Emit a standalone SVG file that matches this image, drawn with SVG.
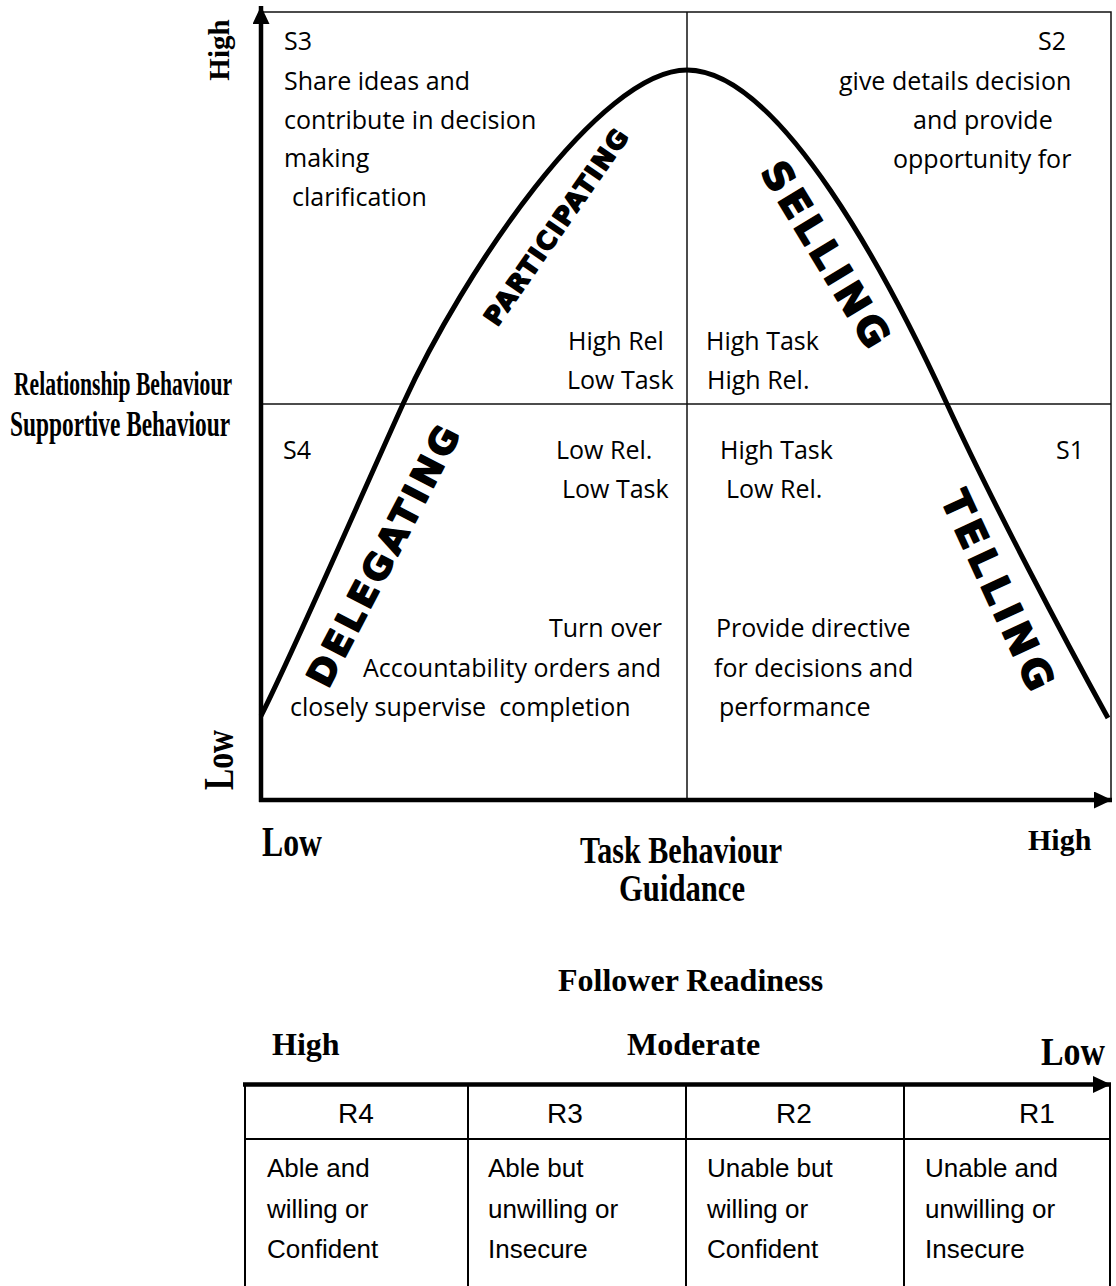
<svg xmlns="http://www.w3.org/2000/svg" width="1116" height="1286" viewBox="0 0 1116 1286">
  <defs>
    <marker id="arrow" markerUnits="userSpaceOnUse" markerWidth="18" markerHeight="17" refX="18" refY="8.5" orient="auto">
      <path d="M0,0 L18,8.5 L0,17 z" fill="#000"/>
    </marker>
    <style>
      .thin { stroke: #111; stroke-width: 1.5; fill: none; }
      .axis { stroke: #000; stroke-width: 4.5; fill: none; }
      .curve { stroke: #000; stroke-width: 5; fill: none; }
      .grid { stroke: #000; stroke-width: 2; fill: none; }
      .q { font-family: "Open Sans", "Liberation Sans", sans-serif; font-size: 25px; fill: #000; }
      .ser { font-family: "Liberation Serif", "Times New Roman", serif; font-weight: bold; fill: #000; }
      .tb { font-family: "Liberation Sans", Arial, sans-serif; font-size: 26px; fill: #000; }
      .rh { font-family: "Liberation Sans", Arial, sans-serif; font-size: 28px; fill: #000; text-anchor: middle; }
      .style { font-family: "DejaVu Sans", "Liberation Sans", sans-serif; font-weight: bold; fill: #000; stroke: #000; stroke-width: 1.6; stroke-linejoin: round; text-anchor: middle; }
    </style>
  </defs>

  <!-- quadrant frame and dividers -->
  <g id="frame">
    <path class="thin" d="M261,12 H1111 V800"/>
    <line class="thin" x1="687" y1="12" x2="687" y2="800"/>
    <line class="thin" x1="261" y1="404" x2="1111" y2="404"/>
  </g>

  <!-- axes and the leadership-style curve -->
  <g id="connectors">
    <line class="axis" x1="261" y1="802" x2="261" y2="6" marker-end="url(#arrow)"/>
    <line class="axis" x1="259" y1="800" x2="1112" y2="800" marker-end="url(#arrow)"/>
    <path class="curve" d="M261,716 C296,646 363,492 403,404 C463,272 600,70 687,70 C780,70 890,280 947,404 C992,502 1065,640 1108,718"/>
    <line class="axis" x1="243" y1="1084.5" x2="1111" y2="1084.5" marker-end="url(#arrow)"/>
  </g>

  <!-- S3 quadrant -->
  <g id="s3">
    <text class="q" x="284" y="50">S3</text>
    <text class="q" x="284" y="90">Share ideas and</text>
    <text class="q" x="284" y="129">contribute in decision</text>
    <text class="q" x="284" y="167">making</text>
    <text class="q" x="292" y="206">clarification</text>
  </g>

  <!-- S2 quadrant -->
  <g id="s2">
    <text class="q" x="1038" y="50">S2</text>
    <text class="q" x="839" y="90">give details decision</text>
    <text class="q" x="913" y="129">and provide</text>
    <text class="q" x="893" y="168">opportunity for</text>
  </g>

  <!-- centre labels -->
  <g id="high-rel-low-task">
    <text class="q" x="568" y="350">High Rel</text>
    <text class="q" x="567" y="389">Low Task</text>
  </g>
  <g id="high-task-high-rel">
    <text class="q" x="706" y="350">High Task</text>
    <text class="q" x="707" y="389">High Rel.</text>
  </g>
  <g id="low-rel-low-task">
    <text class="q" x="556" y="459">Low Rel.</text>
    <text class="q" x="562" y="498">Low Task</text>
  </g>
  <g id="high-task-low-rel">
    <text class="q" x="720" y="459">High Task</text>
    <text class="q" x="726" y="498">Low Rel.</text>
  </g>

  <!-- S4 quadrant -->
  <g id="s4">
    <text class="q" x="283" y="459">S4</text>
    <text class="q" x="549" y="637">Turn over</text>
    <text class="q" x="363" y="677">Accountability orders and</text>
    <text class="q" x="290" y="716" xml:space="preserve">closely supervise  completion</text>
  </g>

  <!-- S1 quadrant -->
  <g id="s1">
    <text class="q" x="1056" y="459">S1</text>
    <text class="q" x="716" y="637">Provide directive</text>
    <text class="q" x="714" y="677">for decisions and</text>
    <text class="q" x="719" y="716">performance</text>
  </g>

  <!-- style names along the curve -->
  <g id="participating">
    <text class="style" font-size="25" textLength="232" transform="translate(556,227) rotate(-55.3)" dy="0.36em">PARTICIPATING</text>
  </g>
  <g id="selling">
    <text class="style" font-size="39" textLength="210" transform="translate(826,254) rotate(58.8)" dy="0.36em">SELLING</text>
  </g>
  <g id="telling">
    <text class="style" font-size="39" textLength="215" transform="translate(998,590) rotate(65.1)" dy="0.36em">TELLING</text>
  </g>
  <g id="delegating">
    <text class="style" font-size="36" textLength="288" transform="translate(383,556) rotate(-62.5)" dy="0.36em">DELEGATING</text>
  </g>

  <!-- axis titles -->
  <g id="y-axis-labels">
    <text class="ser" font-size="29" text-anchor="middle" transform="translate(229,50) rotate(-90)">High</text>
    <text class="ser" font-size="42" text-anchor="middle" textLength="60" lengthAdjust="spacingAndGlyphs" transform="translate(233,760) rotate(-90)">Low</text>
    <text class="ser" font-size="34" x="14" y="395" textLength="218" lengthAdjust="spacingAndGlyphs">Relationship Behaviour</text>
    <text class="ser" font-size="36" x="10" y="436" textLength="220" lengthAdjust="spacingAndGlyphs">Supportive Behaviour</text>
  </g>
  <g id="x-axis-labels">
    <text class="ser" font-size="42" x="262" y="856" textLength="60" lengthAdjust="spacingAndGlyphs">Low</text>
    <text class="ser" font-size="38" x="580" y="863" textLength="202" lengthAdjust="spacingAndGlyphs">Task Behaviour</text>
    <text class="ser" font-size="38" x="619" y="901" textLength="126" lengthAdjust="spacingAndGlyphs">Guidance</text>
    <text class="ser" font-size="30" x="1028" y="850">High</text>
  </g>

  <!-- follower readiness scale -->
  <g id="readiness-title">
    <text class="ser" font-size="32" x="558" y="991">Follower Readiness</text>
    <text class="ser" font-size="32" x="272" y="1055">High</text>
    <text class="ser" font-size="32" x="627" y="1055">Moderate</text>
    <text class="ser" font-size="41" x="1041" y="1065" textLength="64" lengthAdjust="spacingAndGlyphs">Low</text>
  </g>

  <g id="readiness-grid">
    <path class="grid" d="M245,1084 V1286 M468,1084 V1286 M686,1084 V1286 M904,1084 V1286 M1110,1084 V1286 M245,1139 H1110"/>
  </g>

  <g id="r4">
    <text class="rh" x="356" y="1123">R4</text>
    <text class="tb" x="267" y="1177">Able and</text>
    <text class="tb" x="267" y="1218">willing or</text>
    <text class="tb" x="267" y="1258">Confident</text>
  </g>
  <g id="r3">
    <text class="rh" x="565" y="1123">R3</text>
    <text class="tb" x="488" y="1177">Able but</text>
    <text class="tb" x="488" y="1218">unwilling or</text>
    <text class="tb" x="488" y="1258">Insecure</text>
  </g>
  <g id="r2">
    <text class="rh" x="794" y="1123">R2</text>
    <text class="tb" x="707" y="1177">Unable but</text>
    <text class="tb" x="707" y="1218">willing or</text>
    <text class="tb" x="707" y="1258">Confident</text>
  </g>
  <g id="r1">
    <text class="rh" x="1037" y="1123">R1</text>
    <text class="tb" x="925" y="1177">Unable and</text>
    <text class="tb" x="925" y="1218">unwilling or</text>
    <text class="tb" x="925" y="1258">Insecure</text>
  </g>
</svg>
